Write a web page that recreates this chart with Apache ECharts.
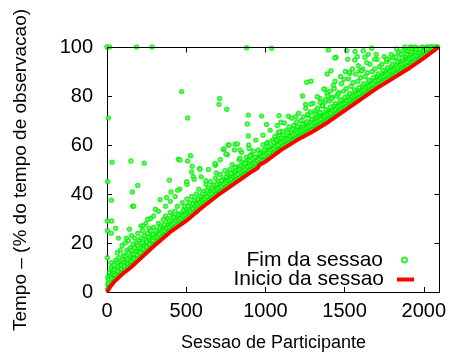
<!DOCTYPE html>
<html>
<head>
<meta charset="utf-8">
<script src="https://cdn.jsdelivr.net/npm/echarts@6/dist/echarts.min.js"></script>
<style>
html, body { margin: 0; padding: 0; background: #fff; }
#grafico { width: 449px; height: 354px; }
</style>
</head>
<body>
<div id="grafico"></div>
<script>
// inicio da sessao (linha vermelha)
var inicioX = [0, 20, 50, 100, 150, 200, 250, 300, 400, 500, 600, 700, 800, 900, 950, 965, 1000, 1100, 1200, 1300, 1400, 1500, 1600, 1700, 1800, 1900, 2000, 2095];
var inicioY = [0, 2.2, 4.5, 7.5, 10, 13, 16, 19, 24.5, 29, 34.5, 39.5, 44, 48.5, 50.6, 52, 53.2, 58, 62, 65.5, 69.5, 74, 78.5, 83, 87, 91, 95.5, 100];

// fim da sessao: faixa junto a linha, cada linha = [x, y1, y2, ...]
var faixaFim = [
  [5,1,3,6],[15,2,4.5,8],[25,3,6,10,12],[35,4,7.5,9],[45,5,8,11],[55,6,9.5,13],
  [65,6.5,8,12,16],[75,7,10,14],[85,8,11.5,17],[95,8.5,10,13,19],[105,9,12,15],
  [115,9.5,11,14.5,20],[125,10,13,17],[135,10.5,12,16,21],[145,11,14,18],
  [155,11.5,13,17,23],[165,12,15,19.5],[175,12.5,14,18,22],[185,13,16.5,20],
  [195,14,15.5,19,24],[205,14.5,17,21],[215,15,18.5,22,27],[225,15.5,17,20,25],
  [235,16,19,23],[245,17,18.5,21.5,28],[255,17.5,20,24],[265,18,19.5,22.5,26],
  [275,18.5,21,25,30],[285,19,20.5,23],[295,19.5,22,26.5,31],[310,20.5,23,25],
  [325,21.5,24,28,33],[340,22,23.5,27],[355,23,25.5,29.5],[370,24,26,31,35],
  [385,24.5,27.5,30],[400,25.5,28,32.5,37],[415,26,29,31],[430,27,28.5,33,39],
  [445,27.5,30.5,35],[460,28,30,32,42],[475,29,31.5,36.5],[490,29.5,33,35],
  [505,30,32,38,44],[520,31,34,36.5],[535,32,33.5,39],[550,32.5,35,37.5,46],
  [565,33.5,36,40],[580,34.5,37.5,42],[595,35,36.5,39,47],[610,36,38.5,41],
  [625,37,40,44],[640,37.5,39,42.5,50],[655,38.5,41,45],[670,39,40.5,43.5],
  [685,40,42,46.5,52],[700,40.5,43,45],[715,41,44,48,54],[730,42,43.5,46],
  [745,42.5,45,49.5],[760,43.5,46.5,48,56],[775,44,45.5,50],[790,44.5,47,52],
  [805,45,46.5,49,58],[820,46,48.5,51],[835,46.5,50,54],[850,47,48.5,52,57],
  [865,48,51,53],[880,48.5,50,55],[895,49,52.5,54,60],[910,50,51.5,56],
  [925,50.5,53,57.5],[940,51,52,55,62],[955,52,54.5,58],[970,53,55,57],
  [985,53.5,56,60,64],[1000,54,55.5,58],[1015,55,57.5,61],[1030,55.5,56.5,59,66],
  [1045,56.5,58.5,62],[1060,57,60,63.5],[1075,57.5,59,61.5,68],[1090,58.5,60.5,64],
  [1105,59,61.5,65.5],[1120,59.5,60.5,63,69],[1135,60.5,62.5,66],[1150,61,64,67.5],
  [1165,61.5,62.5,65,71],[1180,62,64,68],[1195,63,66,69.5],[1210,63.5,64.5,67,73],
  [1225,64,66,70],[1240,64.5,67.5,71.5],[1255,65,66,69,75],[1270,65.5,68,72],
  [1285,66,69,73.5],[1300,66.5,67.5,70.5,77],[1315,67,69.5,74],[1330,67.5,71,75],
  [1345,68,69,72.5,79],[1360,69,71,76],[1375,69.5,72.5,77.5],[1390,70,71,74,81],
  [1405,70.5,73,78],[1420,71.5,74.5,79.5],[1435,72,73,76,83],[1450,72.5,75,80],
  [1465,73.5,76.5,81.5],[1480,74,75,78,85],[1495,74.5,77,82],[1510,75.5,78.5,83],
  [1525,76,77,80,87],[1540,76.5,79,84],[1555,77.5,80.5,85.5],[1570,78,79,82,89],
  [1585,78.5,81,86],[1600,79.5,82.5,87.5],[1615,80,81,84,91],[1630,80.5,83,88],
  [1645,81.5,84.5,89.5],[1660,82,83,86,93],[1675,82.5,85,90],[1690,83.5,86.5,91],
  [1705,84,85,88,95],[1720,84.5,87,92],[1735,85.5,88.5,93],[1750,86,87,90,96],
  [1765,86.5,89,94],[1780,87,90.5,95],[1795,87.5,88.5,92,97],[1810,88.5,91,95.5],
  [1825,89,92.5,96],[1840,89.5,90.5,94,98],[1855,90,93,97],[1870,91,94.5,98.5],
  [1885,91.5,92.5,96,99],[1900,92,95,98],[1915,92.5,94,97,100],[1930,93.5,96,99],
  [1945,94,95,98,100],[1960,94.5,97,99.5],[1975,95.5,96.5,99],[1990,96,98,100],
  [2005,96.5,97.5,99.5],[2020,97.5,99,100],[2035,98,99.5],[2050,98.5,100],
  [2065,99.5,100],[2080,100]
];

// fim da sessao: pontos rentes a linha, cada linha = [x, y1, y2, ...]
var faixaRente = [
  [10,1.8,3.5,5],[30,3.8,5.5],[50,5.2,7,9],[70,6.4,8.5],[90,7.6,9.5,11],[110,8.7,10.5],
  [130,9.7,11.5,13.5],[150,10.7,12.5],[170,11.9,13.5,15.5],[190,13.1,15],[210,14.3,16,18],
  [230,15.5,17.5],[250,16.7,18.5,20.5],[270,17.9,19.5],[290,19.1,21,23.5],[317,20.6,22.5],
  [332,21.5,23.5,26],[347,22.3,24.5],[362,23.1,25,27.5],[377,23.9,26],[392,24.8,26.5,29],
  [407,25.5,27.5],[422,26.2,28,30.5],[437,26.9,29],[452,27.5,29.5,31.5],[467,28.2,30],
  [482,28.9,31,33.5],[497,29.6,31.5],[512,30.4,32.5,35],[527,31.2,33],[542,32,34,36],
  [557,32.8,35],[572,33.7,35.5,38],[587,34.5,36.5],[602,35.3,37.5,40],[617,36.1,38],
  [632,36.8,39,41.5],[647,37.6,40],[662,38.3,40,42.5],[677,39.1,41.5],[692,39.8,42,44],
  [707,40.5,42.5],[722,41.2,43,45.5],[737,41.9,44],[752,42.5,44.5,47],[767,43.2,45.5],
  [782,43.9,46,48.5],[797,44.6,47],[812,45.2,47.5,50],[827,45.9,48],[842,46.6,49,51.5],
  [857,47.3,49.5],[872,47.9,50,52.5],[887,48.6,51],[902,49.3,51.5,53.5],[917,49.9,52],
  [932,50.5,52.5,55],[947,51.2,53.5],[962,52.4,54,56.5],[977,53.3,55.5],[992,53.7,55.5,58],
  [1007,54.2,56.5],[1022,55,57,59.5],[1037,55.7,58],[1052,56.4,58.5,61],[1067,57.1,59.5],
  [1082,57.8,60,62.5],[1097,58.6,61],[1112,59.2,61.5,64],[1127,59.8,62],[1142,60.4,62.5,65],
  [1157,61,63.5],[1172,61.6,64,66.5],[1187,62.2,64.5],[1202,62.8,65,67.5],[1217,63.3,65.5],
  [1232,63.8,66,68.5],[1247,64.3,66.5],[1262,64.9,67,69.5],[1277,65.4,67.5],[1292,65.9,68,70.5],
  [1307,66.5,69],[1322,67.1,69.5,72],[1337,67.7,70],[1352,68.3,70.5,73],[1367,68.9,71.5],
  [1382,69.5,72,74.5],[1397,70.1,72.5],[1412,70.7,73,75.5],[1427,71.4,74],[1442,72.1,74.5,77],
  [1457,72.8,75.5],[1472,73.4,76,78.5],[1487,74.1,76.5],[1502,74.8,77,79.5],[1517,75.5,78],
  [1532,76.1,78.5,81],[1547,76.8,79.5],[1562,77.5,80,82.5],[1577,78.2,80.5],[1592,78.8,81,83.5],
  [1607,79.5,82],[1622,80.2,82.5,85],[1637,80.9,83.5],[1652,81.5,84,86.5],[1667,82.2,84.5],
  [1682,82.9,85,87.5],[1697,83.6,86],[1712,84.2,86.5,89],[1727,84.8,87.5],[1742,85.4,88,90.5],
  [1757,86,88.5],[1772,86.6,89,91.5],[1787,87.2,90],[1802,87.8,90.5,93],[1817,88.4,91],
  [1832,89,91.5,94],[1847,89.6,92.5],[1862,90.2,93,95.5],[1877,90.8,93.5],[1892,91.4,94,97],
  [1907,92,95],[1922,92.7,95.5,98],[1937,93.4,96],[1952,94,96.5,99],[1967,94.7,97.5],
  [1982,95.4,98],[1997,96.1,98.5],[2012,96.8,99],[2027,97.4,99.5],[2042,98.1,100],
  [2057,98.8],[2072,99.5],[2088,100]
];

// fim da sessao: pontos afastados da faixa
var pontosFim = [
  [0,100],[16,100],[186,100],[285,100],[882,99.7],[1040,99.5],[1397,98.8],[1513,98.5],
  [1566,98.2],[1618,98.5],[1671,99.5],[1829,99.2],[1881,100],[1923,99.6],[1976,99.2],
  [8,71],[32,53],[151,53.5],[235,52.6],[4,45],[27,37.5],[2,29],[30,29],[3,25],[27,24],
  [2,14],[55,26],[72,22],[122,22],[141,25.6],[160,40.8],[194,43.5],[162,35],[168,35],
  [257,29.7],[229,27],[394,45.6],[335,37.7],[305,33.8],[377,38.6],[404,40.8],[446,41.5],
  [503,45],[471,81.8],[509,71],[711,79],[707,76.6],[450,54.2],[461,53.9],[509,53.5],
  [528,55.6],[538,51.3],[585,50.3],[535,49],[545,47.1],[684,51.7],[690,48.6],[735,58.2],
  [756,74.6],[892,72.2],[886,68.6],[892,63.7],[976,71.8],[1086,72],[1145,71.8],[1193,71.7],
  [1235,80],[1328,79.7],[1254,76.6],[1288,76.7],[1267,72.5],[1313,72.7],[1008,68.4],
  [1098,69.3],[1081,65],[1089,65.3],[587,50.2],[625,45.4],[682,52.5],[739,58.4],[766,60],
  [808,60.3],[823,60.4],[751,56.3],[840,58],[840,54.6],[903,55.5],[898,58.6],[1008,60.7],
  [1071,62],[808,50.9],[770,60],[1261,85.6],[1288,86],[1376,82.7],[1429,84.4],[1496,86.8],
  [1446,95.8],[1520,95],[1564,94.7],[1640,93.6],[1629,95.8],[1439,95.5],[1587,92.4],
  [1597,90.3],[1608,90.3],[1414,90.3],[1391,89],[1534,89.3],[1530,89.7],[1460,80.8],
  [1345,77.4],[1345,73.3],[1370,82.9],[1766,95.1],[1700,97],[1360,76],[1380,78.5],
  [1395,80],[1410,82],[1420,79],[1440,86],[1475,88],[1505,90],[1550,91],[1580,96],
  [1650,97],[1690,95]
];

var maxX = 2095, passoX = 500;
var maxY = 100, passoY = 20;
var ticksX = [0, 500, 1000, 1500, 2000];
var ticksY = [0, 20, 40, 60, 80, 100];
var tituloX = 'Sessao de Participante';
var tituloY = 'Tempo – (% do tempo de observacao)';

var grafico = echarts.init(document.getElementById('grafico'));

var dadosInicio = inicioX.map(function (x, i) { return [x, inicioY[i]]; });
var dadosFim = [];
faixaFim.concat(faixaRente).forEach(function (linha) {
    for (var k = 1; k < linha.length; k++) dadosFim.push([linha[0], linha[k]]);
});
pontosFim.forEach(function (p) { dadosFim.push(p); });

var fonte = 'Liberation Sans, Arial, Helvetica, sans-serif';

var option = {
    animation: false,
    backgroundColor: '#fff',
    textStyle: { fontFamily: fonte },
    grid: { left: 107, right: 10, top: 47, bottom: 62 },
    xAxis: {
        type: 'value', min: 0, max: maxX, interval: passoX,
        axisLine: { show: true, onZero: false, lineStyle: { color: '#000', width: 1 } },
        axisTick: { show: true, inside: true, length: 5, lineStyle: { color: '#000' } },
        splitLine: { show: false },
        axisLabel: {
            fontSize: 20, color: '#000', margin: 9, showMaxLabel: false, fontFamily: fonte,
            formatter: function (v) { return String(v); }
        }
    },
    yAxis: {
        type: 'value', min: 0, max: maxY, interval: passoY,
        axisLine: { show: true, onZero: false, lineStyle: { color: '#000', width: 1 } },
        axisTick: { show: true, inside: true, length: 5, lineStyle: { color: '#000' } },
        splitLine: { show: false },
        axisLabel: { fontSize: 20, color: '#000', margin: 14, fontFamily: fonte }
    },
    legend: [
        {
            data: ['Fim da sessao'], right: 41, top: 249.5, align: 'right', padding: 0,
            itemWidth: 5, itemHeight: 5,
            textStyle: { fontSize: 21, color: '#000', padding: [0, 14, 0, 0], fontFamily: fonte }
        },
        {
            data: [{ name: 'Inicio da sessao', icon: 'rect' }], right: 35, top: 269, align: 'right', padding: 0,
            itemWidth: 17, itemHeight: 4,
            textStyle: { fontSize: 21, color: '#000', padding: [0, 8, 0, 0], fontFamily: fonte }
        }
    ],
    series: [
        {
            name: 'Fim da sessao', type: 'scatter',
            symbol: 'emptyCircle', symbolSize: 3.4,
            itemStyle: { color: '#00f000', borderColor: '#00f000', borderWidth: 1.2 },
            data: dadosFim, z: 2
        },
        {
            name: 'Inicio da sessao', type: 'line',
            showSymbol: false, symbol: 'none',
            lineStyle: { color: '#ff0000', width: 4 },
            itemStyle: { color: '#ff0000' },
            data: dadosInicio, z: 3
        }
    ]
};
grafico.setOption(option);

// moldura de cima e da direita com os ticks espelhados, posicionados pela escala dos eixos
function px(v) { return grafico.convertToPixel({ xAxisIndex: 0, yAxisIndex: 0 }, v); }
function nitido(c) { return Math.round(c) + 0.5; }
var cantoA = px([0, maxY]);
var cantoB = px([maxX, 0]);
var xa = nitido(cantoA[0]), ya = nitido(cantoA[1]);
var xb = nitido(cantoB[0]), yb = nitido(cantoB[1]);
var traco = { stroke: '#000', lineWidth: 1 };
var elementos = [
    { type: 'line', z: 10, silent: true, shape: { x1: xa, y1: ya, x2: xb, y2: ya }, style: traco },
    { type: 'line', z: 10, silent: true, shape: { x1: xb, y1: ya, x2: xb, y2: yb }, style: traco }
];
ticksX.forEach(function (v) {
    var x = nitido(px([v, maxY])[0]);
    elementos.push({ type: 'line', z: 10, silent: true, shape: { x1: x, y1: ya, x2: x, y2: ya + 5 }, style: traco });
});
ticksY.forEach(function (v) {
    var y = nitido(px([maxX, v])[1]);
    elementos.push({ type: 'line', z: 10, silent: true, shape: { x1: xb, y1: y, x2: xb - 5, y2: y }, style: traco });
});
// titulos dos eixos
elementos.push({
    type: 'text', x: (xa + xb) / 2, y: 343, silent: true,
    style: { text: tituloX, fill: '#000', fontSize: 18, fontFamily: fonte, align: 'center', verticalAlign: 'middle' }
});
elementos.push({
    type: 'text', x: 21, y: (ya + yb) / 2, rotation: Math.PI / 2, silent: true,
    style: { text: tituloY, fill: '#000', fontSize: 19, fontFamily: fonte, align: 'center', verticalAlign: 'middle' }
});
grafico.setOption({ graphic: elementos });
</script>
</body>
</html>
